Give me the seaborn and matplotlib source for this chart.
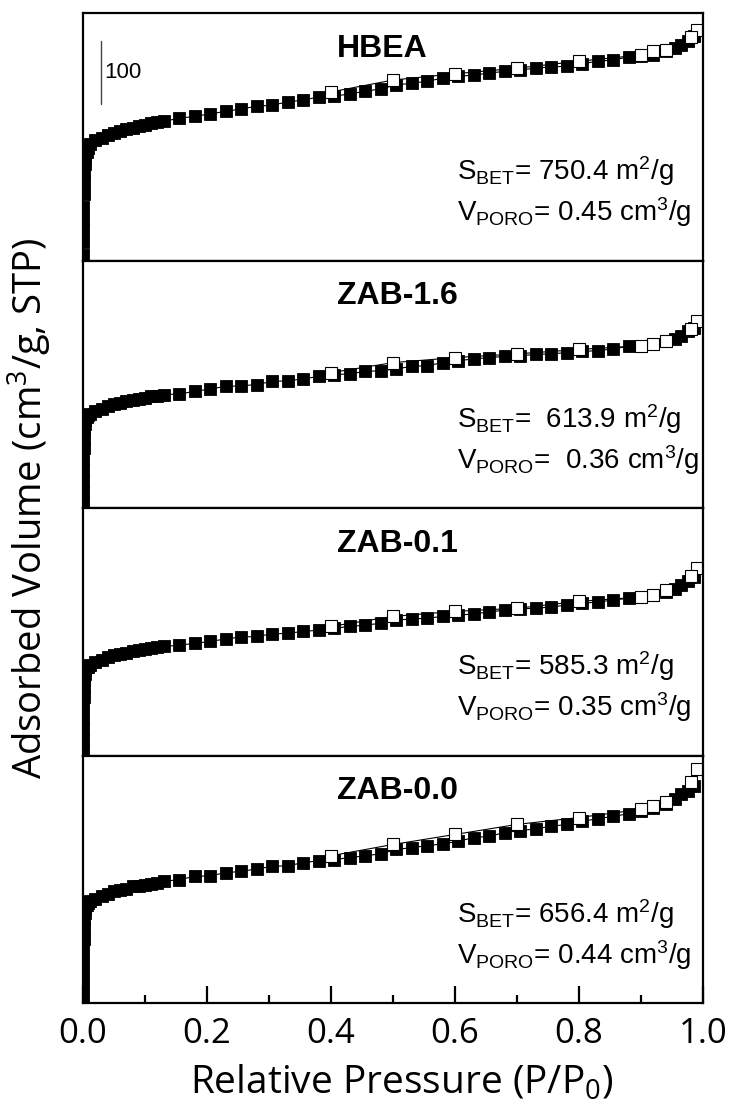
import numpy as np
import pandas as pd
import matplotlib
matplotlib.use("Agg")
import matplotlib.pyplot as plt
from matplotlib.ticker import MultipleLocator
import seaborn as sns

sns.set_theme(style="white")
plt.rcParams["font.family"] = ["Liberation Sans", "DejaVu Sans"]
plt.rcParams["mathtext.default"] = "regular"
plt.rcParams["text.color"] = "black"
plt.rcParams["axes.labelcolor"] = "black"
plt.rcParams["xtick.color"] = "black"
plt.rcParams["ytick.color"] = "black"

samples = ["HBEA", "ZAB-1.6", "ZAB-0.1", "ZAB-0.0"]
s_bet = ["750.4", " 613.9", "585.3", "656.4"]
v_poro = ["0.45", " 0.36", "0.35", "0.44"]

# relative pressure of adsorption points
ads_p = [0.0001, 0.0002, 0.0003, 0.0005, 0.0008, 0.001, 0.0015, 0.002, 0.003, 0.004,
         0.006, 0.008, 0.011,
         0.02, 0.03, 0.04, 0.05, 0.06, 0.07, 0.08, 0.09, 0.10, 0.11, 0.12, 0.13,
         0.155, 0.18, 0.205, 0.23, 0.255, 0.28, 0.305, 0.33, 0.355, 0.38,
         0.405, 0.43, 0.455, 0.48,
         0.505, 0.53, 0.555, 0.58, 0.605, 0.63, 0.655, 0.68, 0.705, 0.73, 0.755, 0.78,
         0.805, 0.83, 0.855, 0.88,
         0.90, 0.92, 0.94, 0.955, 0.965, 0.975, 0.985]
# relative pressure of desorption points
des_p = [0.99, 0.98, 0.94, 0.92, 0.90, 0.80, 0.70, 0.60, 0.50, 0.40]

hbea_ads = [8, 29, 48, 67, 86, 106, 125, 141, 154, 165, 173, 179, 186,
            192, 195, 200, 203, 206, 210, 211, 214, 216, 219, 221, 222,
            227, 230, 234, 238, 242, 246, 248, 253, 256, 261,
            262, 266, 270, 274,
            280, 283, 286, 291, 294, 296, 299, 302, 304, 307, 309, 310, 314, 318, 320, 325,
            326, 328, 334, 339, 344, 350, 358]
hbea_des = [368, 356, 336, 334, 328, 318, 307, 298, 288, 269]

zab16_ads = [8, 26, 43, 61, 78, 96, 112, 125, 134, 141, 146, 149, 150,
             155, 158, 163, 166, 168, 170, 173, 174, 176, 178, 179, 181,
             182, 186, 190, 194, 195, 197, 202, 203, 206, 210,
             213, 214, 218, 219,
             222, 226, 227, 232, 235, 238, 240, 242, 243, 245, 246, 248, 250, 251, 254, 258,
             259, 262, 266, 270, 275, 282, 288]
zab16_des = [298, 286, 267, 262, 259, 253, 246, 240, 232, 216]

zab01_ads = [8, 24, 42, 59, 77, 93, 109, 120, 130, 136, 141, 142, 144,
             149, 152, 157, 160, 162, 163, 166, 168, 170, 171, 173, 174,
             176, 179, 182, 186, 189, 190, 194, 195, 198, 200,
             203, 206, 208, 211,
             216, 218, 219, 222, 224, 226, 229, 232, 234, 235, 237, 240, 243, 245, 248, 251,
             253, 256, 261, 266, 272, 278, 285]
zab01_des = [299, 286, 264, 256, 253, 246, 235, 230, 222, 206]

zab00_ads = [8, 27, 46, 66, 85, 102, 120, 134, 144, 152, 157, 160, 162,
             166, 170, 174, 178, 181, 182, 186, 187, 189, 190, 192, 194,
             197, 202, 203, 208, 210, 214, 218, 219, 224, 227,
             229, 232, 235, 238,
             245, 248, 251, 254, 258, 264, 266, 272, 275, 278, 282, 285, 290, 294, 298, 302,
             306, 312, 317, 325, 333, 338, 346]
zab00_des = [374, 352, 320, 314, 309, 296, 285, 269, 253, 235]

ads_sets = [hbea_ads, zab16_ads, zab01_ads, zab00_ads]
des_sets = [hbea_des, zab16_des, zab01_des, zab00_des]

W, H = 731, 1109
fig, axes = plt.subplots(4, 1, figsize=(W / 100, H / 100), dpi=100, sharex=True)
fig.subplots_adjust(left=83 / W, right=703 / W, top=1 - 13 / H, bottom=1 - 1003 / H, hspace=0)

for i, ax in enumerate(axes):
    dfa = pd.DataFrame({"p": ads_p, "v": ads_sets[i]})
    dfd = pd.DataFrame({"p": des_p, "v": des_sets[i]})
    sns.lineplot(data=dfa, x="p", y="v", ax=ax, sort=False, estimator=None,
                 color="black", lw=0.8, marker="s", ms=8.8, mfc="black", mec="black",
                 mew=0.6, legend=False)
    sns.lineplot(data=dfd, x="p", y="v", ax=ax, sort=False, estimator=None,
                 color="black", lw=0.8, marker="s", ms=8.6, mfc="white", mec="black",
                 mew=0.8, legend=False)
    ax.set_xlim(0, 1.0)
    ax.set_ylim(0, 395)
    ax.set_xlabel("")
    ax.set_ylabel("")
    for sp in ax.spines.values():
        sp.set_linewidth(1.6)
        sp.set_color("black")
    if i in (0, 3):
        ax.set_yticks([58])
        ax.tick_params(axis="y", direction="in", color="white", length=7, width=1.6,
                       labelleft=False, left=True)
    else:
        ax.set_yticks([])
    ax.text(0.41, 0.855, samples[i], transform=ax.transAxes, fontsize=23,
            fontweight="bold", ha="left", va="center")
    ax.text(0.603, 0.36, "S$_\\mathregular{BET}$= " + s_bet[i] + " m$^\\mathregular{2}$/g",
            transform=ax.transAxes, fontsize=20, ha="left", va="center")
    ax.text(0.603, 0.195, "V$_\\mathregular{PORO}$= " + v_poro[i] + " cm$^\\mathregular{3}$/g",
            transform=ax.transAxes, fontsize=20, ha="left", va="center")
    if i < 3:
        ax.tick_params(axis="x", bottom=False, labelbottom=False)

# scale bar in the top panel
axes[0].plot([0.029, 0.029], [250, 350], color="#444444", lw=1.0)
axes[0].text(0.034, 300, "100", fontsize=16, ha="left", va="center")

bx = axes[3]
bx.xaxis.set_major_locator(MultipleLocator(0.2))
bx.xaxis.set_minor_locator(MultipleLocator(0.1))
bx.xaxis.set_major_formatter(matplotlib.ticker.FormatStrFormatter("%.1f"))
bx.tick_params(axis="x", which="major", direction="in", length=12, width=1.6,
               bottom=True, labelbottom=True, labelsize=25, pad=10)
bx.tick_params(axis="x", which="minor", direction="in", length=6, width=1.6, bottom=True)
for lab in bx.get_xticklabels():
    lab.set_family(["Open Sans", "DejaVu Sans"])

fig.text(402 / W, 1 - 1083 / H, "Relative Pressure (P/P$_\\mathregular{0}$)",
         fontsize=28, ha="center", va="center", family=["Open Sans", "DejaVu Sans"])
fig.text(30 / W, 1 - 508 / H, "Adsorbed Volume (cm$^\\mathregular{3}$/g, STP)",
         fontsize=27.5, rotation=90, ha="center", va="center",
         family=["Open Sans", "DejaVu Sans"])

fig.savefig("out.png", dpi=100)
